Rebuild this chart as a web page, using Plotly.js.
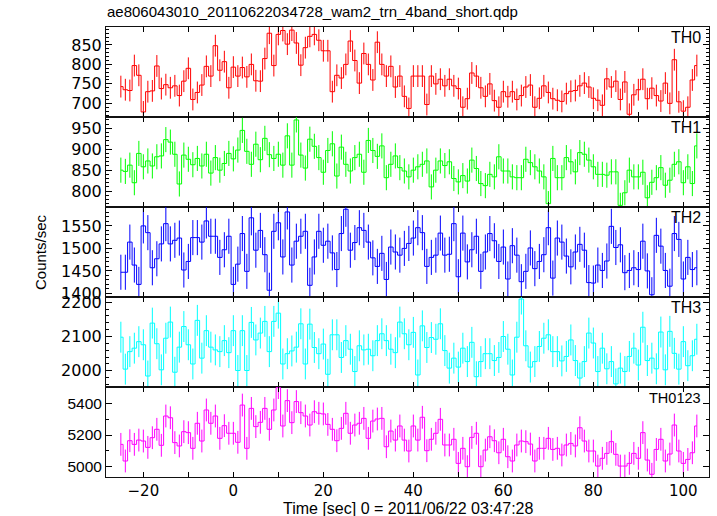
<!DOCTYPE html>
<html>
<head>
<meta charset="utf-8">
<script src="https://cdn.plot.ly/plotly-3.0.1.min.js"></script>
<style>html,body{margin:0;padding:0;background:#fff;}#plot{width:717px;height:516px;}</style>
</head>
<body>
<div id="plot"></div>
<script>
// Time bins (1 s bins, centres), 0 = 2011/06/22 03:47:28
const binStart = -25;
const binWidth = 1;
const nBins = 129;

const TH0 = [743,735,733,797,772,678,730,732,796,738,748,740,745,720,757,790,710,728,747,795,
770,848,785,807,740,793,770,792,768,800,758,757,815,880,797,877,887,852,888,855,
798,843,872,877,862,835,835,730,772,765,800,860,810,752,828,800,760,857,
800,770,795,742,770,718,687,770,770,770,697,770,750,762,745,762,745,738,690,712,
778,770,740,718,750,707,690,730,717,730,710,720,742,747,690,713,745,728,712,708,
705,725,731,733,745,752,742,713,708,695,763,742,757,710,755,672,722,735,762,712,
739,720,706,752,700,812,704,680,690,760,797];

const TH1 = [850,847,862,820,890,858,872,860,882,884,923,917,888,817,886,876,863,878,860,888,
843,880,850,866,890,877,898,945,895,864,912,875,926,887,878,888,862,932,862,970,
886,855,924,907,880,845,897,913,836,905,864,848,880,888,845,921,897,883,
908,832,864,884,856,848,834,850,858,864,872,810,850,872,861,870,830,822,837,824,
874,854,818,813,840,834,882,848,848,834,832,832,876,868,858,848,834,770,878,832,
832,880,870,846,892,888,874,858,840,840,838,846,846,766,796,850,834,834,845,784,
821,832,856,814,826,864,870,820,858,818,908];

const TH2 = [1447,1447,1514,1463,1420,1550,1535,1457,1477,1510,1555,1510,1518,1523,1452,1471,1524,1524,1514,1561,
1527,1527,1480,1497,1527,1420,1465,1533,1449,1568,1496,1540,1486,1407,1538,1557,1481,1581,1463,1516,
1527,1538,1418,1481,1538,1507,1516,1490,1453,1533,1587,1496,1513,1546,1540,1514,1479,1460,
1489,1431,1503,1492,1485,1500,1511,1523,1546,1535,1460,1480,1485,1534,1485,1487,1555,1437,1534,1470,
1497,1527,1449,1492,1533,1517,1471,1503,1432,1506,1485,1426,1449,1501,1455,1471,1486,1546,1434,1523,
1514,1483,1459,1492,1509,1496,1424,1423,1463,1451,1472,1549,1502,1508,1446,1451,1457,1453,1516,1450,
1397,1529,1505,1451,1416,1533,1520,1432,1480,1453,1457];

const TH3 = [2098,2005,2056,2066,2085,2076,1985,2139,2079,2003,2095,2142,1996,2069,2129,2076,2020,2147,2037,2117,
2069,2061,2056,2088,2053,2117,2001,2117,2001,2141,2090,2110,2144,2056,2144,2168,2020,2050,2058,2069,
2137,2020,2136,2068,2050,2078,1990,2105,2105,2039,2088,2063,1998,2073,2061,2063,2044,2088,
2108,2088,2063,2053,2142,2108,2076,2112,1988,2131,2068,2097,2092,2137,2059,2008,2037,2011,2066,2027,
2083,1983,2027,2050,2050,2030,2039,2100,2063,1988,2098,2209,2073,2011,2027,2071,2095,2105,2056,2056,
2029,2042,2090,2030,1979,2027,2110,2081,1998,2066,2006,2027,1962,2008,1998,2042,2066,2017,2127,2030,
2037,2006,2113,2003,2115,2051,2005,2085,2015,2044,2092];

const TH0123 = [5141,5036,5164,5141,5168,5162,5122,5183,5236,5135,5320,5309,5152,5131,5221,5215,5116,5274,5162,5358,
5274,5320,5179,5259,5211,5211,5154,5389,5116,5368,5253,5280,5368,5236,5358,5499,5257,5417,5278,5411,
5341,5320,5263,5347,5337,5333,5267,5236,5164,5242,5337,5211,5263,5274,5305,5179,5288,5301,
5305,5126,5225,5168,5257,5168,5099,5257,5168,5312,5101,5173,5211,5299,5137,5137,5173,5021,5116,5000,
5185,5211,5000,5105,5189,5164,5088,5173,5063,5036,5137,5162,5158,5143,5036,5116,5116,5179,5109,5116,
5074,5137,5147,5131,5246,5162,5099,5099,5004,5053,5084,5158,5078,5004,5004,5021,5084,5053,5215,5042,
4952,5109,5173,5036,5080,5263,5099,5021,5046,5088,5257];

// typical 1-sigma error per band
const errTH0 = 28, errTH1 = 30, errTH2 = 39, errTH3 = 45, errTH0123 = 72;

const bandNames = ['TH0','TH1','TH2','TH3','TH0123'];
const bandValues = [TH0, TH1, TH2, TH3, TH0123];
const bandErrors = [errTH0, errTH1, errTH2, errTH3, errTH0123];
const bandColors = ['#ff0000','#00ff00','#0000ff','#00ffff','#ff00ff'];
const yRanges = [[665,896],[762,977],[1392,1592],[1953,2215],[4935,5503]];
const yMajor = [50,50,50,100,200];
const yMinor = [10,10,10,20,100];

const time = Array.from({length: nBins}, (_, i) => binStart + i * binWidth);

const traces = [];
const layout = {
  width: 717, height: 516,
  margin: {l: 106, r: 8, t: 27, b: 39},
  paper_bgcolor: '#fff', plot_bgcolor: '#fff',
  showlegend: false,
  font: {family: 'Liberation Sans, Arial, sans-serif', color: '#000'},
  title: {
    text: 'ae806043010_20110622034728_wam2_trn_4band_short.qdp',
    font: {family: 'Liberation Sans Narrow, Liberation Sans, Arial, sans-serif', size: 15, color: '#000'},
    xref: 'container', yref: 'container', x: 107/717, xanchor: 'left', y: 1 - 12/516, yanchor: 'middle'
  },
  annotations: []
};

const nP = bandNames.length;
for (let k = 0; k < nP; k++) {
  const n = k + 1;
  const xa = n === 1 ? 'x' : 'x' + n;
  const ya = n === 1 ? 'y' : 'y' + n;
  traces.push({
    type: 'scatter', mode: 'lines',
    x: time, y: bandValues[k],
    xaxis: xa, yaxis: ya,
    line: {color: bandColors[k], width: 1, shape: 'hvh'},
    error_y: {type: 'constant', value: bandErrors[k], color: bandColors[k], thickness: 1, width: 0, visible: true},
    hoverinfo: 'skip'
  });
  const top = 1 - k / nP, bot = 1 - (k + 1) / nP;
  const isBottom = (k === nP - 1);
  layout['xaxis' + (n === 1 ? '' : n)] = {
    domain: [0, 1], anchor: ya, range: [-28.3, 105.7],
    showline: true, linecolor: '#111', linewidth: 1, mirror: 'ticks',
    ticks: 'inside', ticklen: 5, tickcolor: '#000', tickwidth: 1,
    tick0: 0, dtick: 20,
    minor: {dtick: 10, ticks: 'inside', ticklen: 5, tickcolor: '#000', tickwidth: 1},
    showticklabels: isBottom,
    tickfont: {family: 'DejaVu Sans, sans-serif', size: 15, color: '#000'},
    showgrid: false, zeroline: false, fixedrange: true,
    matches: n === 1 ? undefined : 'x'
  };
  layout['yaxis' + (n === 1 ? '' : n)] = {
    domain: [bot, top], anchor: xa, range: yRanges[k],
    showline: true, linecolor: '#111', linewidth: 1, mirror: 'ticks',
    ticks: 'inside', ticklen: 6, tickcolor: '#000', tickwidth: 1,
    tick0: 0, dtick: yMajor[k],
    minor: {dtick: yMinor[k], ticks: 'inside', ticklen: 3, tickcolor: '#000', tickwidth: 1},
    tickfont: isBottom ? {family: 'Liberation Sans, Arial, sans-serif', size: 15.5, color: '#000'}
                       : {family: 'DejaVu Sans, sans-serif', size: 16, color: '#000'},
    showgrid: false, zeroline: false, fixedrange: true
  };
  layout.annotations.push({
    text: bandNames[k], showarrow: false,
    xref: 'paper', x: (703 - 106) / 603, xanchor: 'right',
    yref: ya + ' domain', y: 1 - 10.5 / 90, yanchor: 'middle',
    font: {family: 'Liberation Sans, Arial, sans-serif', size: isBottom ? 14.5 : 16, color: '#000'}
  });
}

layout.annotations.push({
  text: 'Time [sec] 0 = 2011/06/22 03:47:28', showarrow: false,
  xref: 'paper', x: 0.5, xanchor: 'center',
  yref: 'paper', y: -(508.5 - 477) / 450, yanchor: 'middle',
  font: {family: 'Liberation Sans, Arial, sans-serif', size: 16, color: '#000'}
});
layout.annotations.push({
  text: 'Counts/sec', showarrow: false, textangle: -90,
  xref: 'paper', x: (40 - 106) / 603, xanchor: 'center',
  yref: 'paper', y: 0.5, yanchor: 'middle',
  font: {family: 'Liberation Sans, Arial, sans-serif', size: 15, color: '#000'}
});

Plotly.newPlot('plot', traces, layout, {staticPlot: true, displayModeBar: false});
</script>
</body>
</html>
